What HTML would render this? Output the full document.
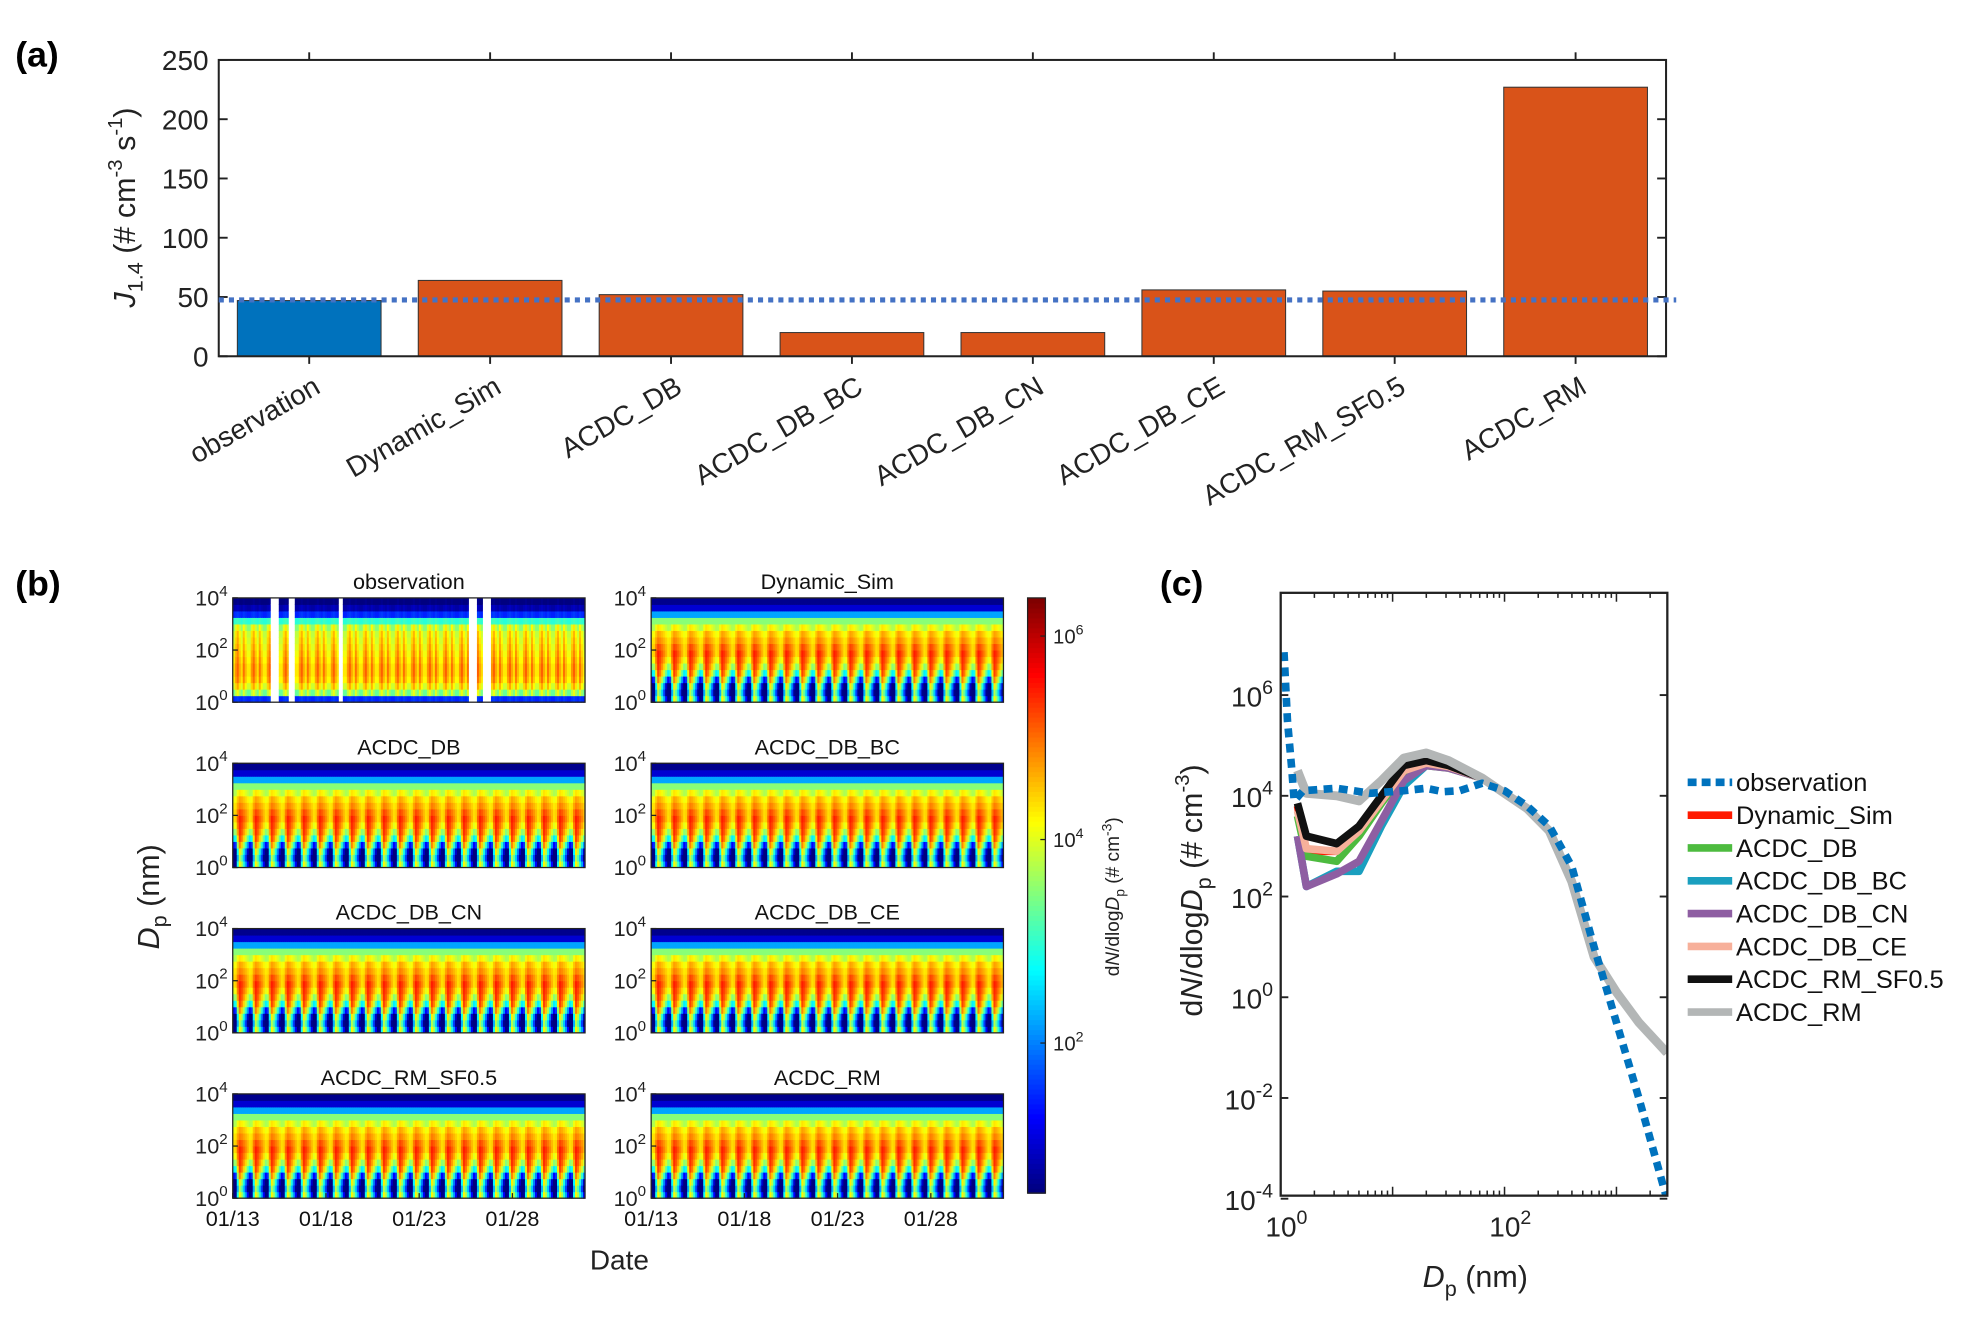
<!DOCTYPE html>
<html><head><meta charset="utf-8">
<style>
html,body{margin:0;padding:0;background:#fff;}
svg{display:block;font-family:"Liberation Sans",Arial,sans-serif;}
</style></head>
<body>
<svg id="fig" width="1984" height="1323" viewBox="0 0 1560 1040" xmlns="http://www.w3.org/2000/svg">
<rect width="1560" height="1040" fill="#fff"/>
<text x="12" y="52" font-size="28" font-weight="bold">(a)</text>
<text x="12" y="468" font-size="28" font-weight="bold">(b)</text>
<text x="912" y="468" font-size="28" font-weight="bold">(c)</text>
<g id="pa"></g>
<g id="pb"></g>
<g id="pc"></g>
</svg>
<script>
// ---------- Panel (a) data ----------
const barCategories = ["observation","Dynamic_Sim","ACDC_DB","ACDC_DB_BC","ACDC_DB_CN","ACDC_DB_CE","ACDC_RM_SF0.5","ACDC_RM"];
const barValues = [47, 64, 52, 20, 20, 56, 55, 227];
const barYTicks = [0, 50, 100, 150, 200, 250];
const obsRefValue = 47.5;

// ---------- Panel (b) data ----------
const heatTitles = ["observation","Dynamic_Sim","ACDC_DB","ACDC_DB_BC","ACDC_DB_CN","ACDC_DB_CE","ACDC_RM_SF0.5","ACDC_RM"];
const heatDateLabels = ["01/13","01/18","01/23","01/28"];
const heatDays = 22;
const simSizeProfile = [2.2,1.6,2.0,3.0,3.9,4.4,4.7,4.9,4.8,4.6,4.4,4.0,3.5,2.2,1.0,0.6];
const simDiurnal = [-1.2,-1.0,0.4,1.3,1.0,0.5,0.0,-0.6];
const simBurstWeight = [1.3,1.4,1.5,1.2,0.8,0.5,0.3,0.2,0.1,0,0,0,0,0,0,0];
const obsSizeProfile = [1.5,3.6,4.2,4.5,4.6,4.6,4.5,4.4,4.3,4.2,4.1,3.8,3.0,1.5,0.8,0.5];
const obsDiurnal = [-0.3,0.2,0.5,0.1,-0.2,0.4,0.0,-0.3];
const obsGaps = [[0.105,0.13],[0.155,0.175],[0.3,0.31],[0.67,0.69],[0.71,0.73]];
const cbarTicks = [2, 4, 6];

// ---------- Panel (c) data (log10 Dp, log10 dN/dlogDp) ----------
const seriesNames = ["observation","Dynamic_Sim","ACDC_DB","ACDC_DB_BC","ACDC_DB_CN","ACDC_DB_CE","ACDC_RM_SF0.5","ACDC_RM"];
const commonTailX = [1.8,2.0,2.2,2.4,2.6,2.8,3.0,3.2,3.45];
const commonTailY = [4.35,4.05,3.75,3.3,2.3,0.8,0.1,-0.5,-1.1];
const obsX = [0.03,0.06,0.1,0.12,0.2,0.5,0.65,0.8,1.1,1.3,1.45,1.6,1.8,2.0,2.2,2.4,2.6,2.8,3.0,3.2,3.4,3.45];
const obsY = [6.85,5.5,4.5,3.9,4.1,4.15,4.1,4.05,4.1,4.15,4.08,4.1,4.25,4.1,3.8,3.4,2.6,1.0,-0.5,-2.0,-3.6,-4.0];
const headX = [0.15,0.23,0.5,0.7,0.9,1.1,1.3,1.5];
const dynY = [3.8,2.9,2.9,3.35,3.95,4.55,4.68,4.58];
const dbY  = [3.6,2.8,2.7,3.2,3.85,4.45,4.6,4.55];
const bcY  = [3.2,2.2,2.5,2.5,3.4,4.2,4.6,4.6];
const cnY  = [3.2,2.2,2.45,2.7,3.5,4.3,4.6,4.55];
const ceY  = [3.7,2.95,2.9,3.3,3.9,4.5,4.65,4.58];
const sfY  = [3.85,3.2,3.05,3.4,4.0,4.6,4.7,4.6];
const rmY  = [4.5,4.05,4.0,3.9,4.3,4.75,4.85,4.7];
const cYTicks = [6,4,2,0,-2,-4];
const cXTicks = [0,2];

const NS="http://www.w3.org/2000/svg";
function mk(tag,attrs,parent){const e=document.createElementNS(NS,tag);for(const k in attrs)e.setAttribute(k,attrs[k]);parent.appendChild(e);return e;}
function txt(s,attrs,parent){const e=mk("text",attrs,parent);e.textContent=s;return e;}
function pow10(parent,x,y,exp,size,anchor){
  const t=mk("text",{x:x,y:y,"font-size":size,"text-anchor":anchor||"end",fill:"#222"},parent);
  const a=document.createElementNS(NS,"tspan");a.textContent="10";t.appendChild(a);
  const b=document.createElementNS(NS,"tspan");b.setAttribute("dy",-size*0.45);b.setAttribute("font-size",size*0.7);b.textContent=String(exp);t.appendChild(b);
  return t;
}

// ---------- Draw (a) ----------
(function(){
  const g=document.getElementById("pa");
  const L=172,R=1310,T=47,B=280,ymax=250;
  const n=barCategories.length, step=(R-L)/n;
  const xc=i=>L+step*(i+0.5);
  const ys=v=>B-(v/ymax)*(B-T);
  barValues.forEach((v,i)=>{
    const r=mk("rect",{x:xc(i)-56.5,y:ys(v),width:113,height:B-ys(v),fill:i===0?"#0072bd":"#d95319",stroke:"#333","stroke-width":0.8},g);
    
    
  });
  const ax=mk("rect",{x:L,y:T,width:R-L,height:B-T,fill:"none",stroke:"#222","stroke-width":1.6},g);
  
  barYTicks.forEach(v=>{
    mk("line",{x1:L,x2:L+7,y1:ys(v),y2:ys(v),stroke:"#222","stroke-width":1.5},g);
    mk("line",{x1:R,x2:R-7,y1:ys(v),y2:ys(v),stroke:"#222","stroke-width":1.5},g);
    const t=txt(String(v),{x:L-8,y:ys(v)+8,"font-size":22,"text-anchor":"end",fill:"#222"},g);
    
  });
  barCategories.forEach((c,i)=>{
    mk("line",{x1:xc(i),x2:xc(i),y1:T,y2:T-6,stroke:"#222","stroke-width":1.5},g);
    mk("line",{x1:xc(i),x2:xc(i),y1:B,y2:B+6,stroke:"#222","stroke-width":1.5},g);
    const t=txt(c,{x:xc(i)+10,y:B+28,"font-size":22,"text-anchor":"end",fill:"#222",transform:`rotate(-30 ${xc(i)+10} ${B+28})`},g);
    
  });
  const dl=mk("line",{x1:L,x2:1318,y1:ys(obsRefValue),y2:ys(obsRefValue),stroke:"#4472c4","stroke-width":4,"stroke-dasharray":"4 4"},g);
  
  const yl=mk("text",{x:0,y:0,"font-size":24,"text-anchor":"middle",fill:"#222",transform:"translate(106 163) rotate(-90)"},g);
  yl.innerHTML='<tspan font-style="italic">J</tspan><tspan font-size="17" dy="6">1.4</tspan><tspan dy="-6"> (# cm</tspan><tspan font-size="16" dy="-10">-3</tspan><tspan dy="10"> s</tspan><tspan font-size="16" dy="-10">-1</tspan><tspan dy="10">)</tspan>';
  
})();

// ---------- Draw (b) ----------
function jet(c){c=Math.max(0,Math.min(1,c));
  const r=Math.max(0,Math.min(1,1.5-Math.abs(4*c-3))),g=Math.max(0,Math.min(1,1.5-Math.abs(4*c-2))),b=Math.max(0,Math.min(1,1.5-Math.abs(4*c-1)));
  return `rgb(${Math.round(r*255)},${Math.round(g*255)},${Math.round(b*255)})`;}
const CB_MIN=0.525, CB_RANGE=5.85;
(function(){
  const g=document.getElementById("pb");
  const cols=[183,512], W=277, rows=[470,600,730,860], H=82;
  const nS=simSizeProfile.length, perDay=simDiurnal.length, nT=heatDays*perDay;
  heatTitles.forEach((title,p)=>{
    const x0=cols[p%2], y0=rows[Math.floor(p/2)];
    const pg=mk("g",{},g);
    
    const isObs=p===0, prof=isObs?obsSizeProfile:simSizeProfile, di=isObs?obsDiurnal:simDiurnal;
    const cw=W/nT, ch=H/nS;
    for(let t=0;t<nT;t++){
      const f=t/nT;
      const gap=isObs&&obsGaps.some(q=>f>=q[0]&&f<q[1]);
      for(let s=0;s<nS;s++){
        let v;
        if(isObs){v=prof[s]+di[t%perDay]*(s>0&&s<12?1:0.2);}
        else{v=prof[s]+di[t%perDay]*(simBurstWeight[s]+0.25*(s<12?1:0));}
        const col=gap?"#fff":jet((v-CB_MIN)/CB_RANGE);
        mk("rect",{x:x0+t*cw,y:y0+H-(s+1)*ch,width:cw+0.4,height:ch+0.4,fill:col},pg);
      }
    }
    mk("rect",{x:x0,y:y0,width:W,height:H,fill:"none",stroke:"#222","stroke-width":1},pg);
    const tt=txt(title,{x:x0+W/2,y:y0-7,"font-size":17,"text-anchor":"middle",fill:"#111"},pg);
    
    [0,2,4].forEach(e=>{const yy=y0+H-(e/4)*H;
      pow10(pg,x0-4,yy+6,e,17,"end");
      mk("line",{x1:x0,x2:x0+4,y1:yy,y2:yy,stroke:"#222"},pg);});
    if(p>=6){heatDateLabels.forEach((d,i)=>{const xx=x0+i*73.3;
      mk("line",{x1:xx,x2:xx,y1:y0+H,y2:y0+H-4,stroke:"#222"},pg);
      const dt=txt(d,{x:xx,y:y0+H+22,"font-size":17,"text-anchor":"middle",fill:"#111"},pg);
      });}
  });
  const cb=mk("g",{},g);
  const cx=808,cy0=470,cy1=938;
  for(let i=0;i<120;i++){mk("rect",{x:cx,y:cy1-(i+1)*(cy1-cy0)/120,width:14,height:(cy1-cy0)/120+0.5,fill:jet(i/119)},cb);}
  mk("rect",{x:cx,y:cy0,width:14,height:cy1-cy0,fill:"none",stroke:"#222"},cb);
  const cbY=e=>cy1-((e-CB_MIN)/CB_RANGE)*(cy1-cy0);
  cbarTicks.forEach(e=>{mk("line",{x1:cx+14,x2:cx+10,y1:cbY(e),y2:cbY(e),stroke:"#222"},cb);pow10(cb,cx+20,cbY(e)+6,e,16,"start");});
  const cl=mk("text",{x:0,y:0,"font-size":15,"text-anchor":"middle",fill:"#222",transform:"translate(880 705) rotate(-90)"},cb);
  cl.innerHTML='d<tspan font-style="italic">N</tspan>/dlog<tspan font-style="italic">D</tspan><tspan font-size="11" dy="4">p</tspan><tspan dy="-4"> (# cm</tspan><tspan font-size="11" dy="-6">-3</tspan><tspan dy="6">)</tspan>';
  const yt=mk("text",{x:0,y:0,"font-size":24,"text-anchor":"middle",fill:"#222",transform:"translate(125 705) rotate(-90)"},g);
  yt.innerHTML='<tspan font-style="italic">D</tspan><tspan font-size="17" dy="6">p</tspan><tspan dy="-6"> (nm)</tspan>';
  
  const xt=txt("Date",{x:487,y:998,"font-size":22,"text-anchor":"middle",fill:"#222"},g);
  
})();

// ---------- Draw (c) ----------
(function(){
  const g=document.getElementById("pc");
  const L=1007,R=1311,T=466,B=940;
  const xs=lx=>L+lx*88, ys=ly=>784-ly*39.6;
  const cp=mk("clipPath",{id:"cclip"},g);mk("rect",{x:L,y:T,width:R-L,height:B-T},cp);
  const lines=mk("g",{"clip-path":"url(#cclip)"},g);
  const colors=["#0072bd","#ff1a00","#4dbb3f","#1a9fbf","#8e5ea2","#f7b09a","#111111","#b3b6b6"];
  const heads=[null,dynY,dbY,bcY,cnY,ceY,sfY,rmY];
  function poly(X,Y,col,w,dash,name){
    const pts=X.map((x,i)=>xs(x).toFixed(1)+","+ys(Y[i]).toFixed(1)).join(" ");
    const p=mk("polyline",{points:pts,fill:"none",stroke:col,"stroke-width":w,"stroke-linejoin":"round"},lines);
    if(dash)p.setAttribute("stroke-dasharray",dash);
    
  }
  for(let k=1;k<8;k++){poly(headX.concat(commonTailX),heads[k].concat(commonTailY),colors[k],k===7?7:6,null,seriesNames[k]);}
  poly(obsX,obsY,colors[0],6,"7 5",seriesNames[0]);
  mk("rect",{x:L,y:T,width:R-L,height:B-T,fill:"none",stroke:"#222","stroke-width":1.8},g);
  cYTicks.forEach(e=>{const y=ys(e);
    mk("line",{x1:L,x2:L+6,y1:y,y2:y,stroke:"#222","stroke-width":1.5},g);
    mk("line",{x1:R,x2:R-6,y1:y,y2:y,stroke:"#222","stroke-width":1.5},g);
    pow10(g,L-6,y+9,e,22,"end");});
  for(let d=0;d<4;d++)for(let m=1;m<10;m++){const lx=d+Math.log10(m);if(lx>3.45)continue;const x=xs(lx);
    const len=m===1?7:4;
    mk("line",{x1:x,x2:x,y1:B,y2:B-len,stroke:"#222","stroke-width":1.2},g);
    mk("line",{x1:x,x2:x,y1:T,y2:T+len,stroke:"#222","stroke-width":1.2},g);}
  cXTicks.forEach(e=>pow10(g,xs(e)-12,B+32,e,22,"start"));
  const xl=mk("text",{x:1160,y:1012,"font-size":24,"text-anchor":"middle",fill:"#222"},g);
  xl.innerHTML='<tspan font-style="italic">D</tspan><tspan font-size="17" dy="7">p</tspan><tspan dy="-7"> (nm)</tspan>';
  
  const yl=mk("text",{x:0,y:0,"font-size":24,"text-anchor":"middle",fill:"#222",transform:"translate(945 700) rotate(-90)"},g);
  yl.innerHTML='d<tspan font-style="italic">N</tspan>/dlog<tspan font-style="italic">D</tspan><tspan font-size="17" dy="7">p</tspan><tspan dy="-7"> (# cm</tspan><tspan font-size="16" dy="-10">-3</tspan><tspan dy="10">)</tspan>';
  
  seriesNames.forEach((n,i)=>{const y=615+i*25.8;
    const le=mk("g",{},g);
    const l=mk("line",{x1:1327,x2:1362,y1:y,y2:y,stroke:colors[i],"stroke-width":6},le);
    if(i===0)l.setAttribute("stroke-dasharray","7 4");
    txt(n,{x:1365,y:y+7,"font-size":20,fill:"#111"},le);});
})();
</script>
</body></html>
